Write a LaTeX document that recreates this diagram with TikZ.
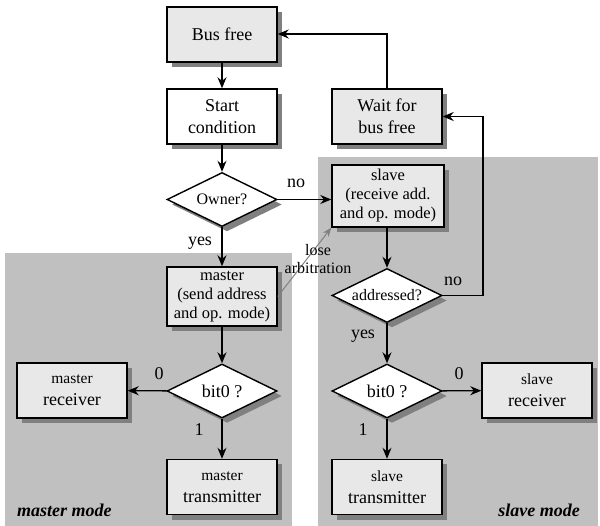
\documentclass[tikz,border=0pt]{standalone}
\usepackage{fontspec}
\setmainfont{Liberation Serif}
\usetikzlibrary{shapes.geometric,shadows,arrows.meta}
\definecolor{regiongray}{HTML}{C0C0C0}
\definecolor{boxfill}{HTML}{E8E8E8}
\definecolor{shadowgray}{HTML}{808080}
\begin{document}
\begin{tikzpicture}[x=1pt,y=-1pt,
  shadowed/.style={general shadow={fill=shadowgray, shadow xshift=5pt, shadow yshift=-5pt}},
  proc/.style={draw, line width=1.4pt, fill=boxfill, shadowed, minimum width=110pt,
    minimum height=55pt, align=center, inner sep=2pt, font=\fontsize{18}{22}\selectfont},
  plainproc/.style={proc, fill=white},
  smallproc/.style={proc, font=\fontsize{16.5}{19}\selectfont},
  decision/.style={diamond, shape aspect=2, draw, line width=1.4pt, fill=white, shadowed,
    minimum width=110pt, minimum height=54pt, inner sep=0pt, font=\fontsize{16}{19}\selectfont},
  flow/.style={line width=1.4pt, -{Stealth[length=11pt,width=9pt]}},
  lbl/.style={font=\fontsize{18}{20}\selectfont, inner sep=0pt},
  modelbl/.style={font=\bfseries\itshape\fontsize{18}{20}\selectfont, inner sep=0pt},
]
\useasboundingbox (0,0) rectangle (600,526);

% mode regions
\fill[regiongray] (5,253) rectangle (292,526);
\fill[regiongray] (318,157) rectangle (598,526);

% nodes
\node[proc] (busfree) at (222,34.5) {Bus free};
\node[plainproc] (start) at (222,116.5) {Start\\condition};
\node[proc] (wait) at (387,116.5) {Wait for\\bus free};
\node[decision] (owner) at (222,199.5) {Owner?};
\node[smallproc, minimum width=112pt, minimum height=62pt] (slave) at (388,196) {slave\\(receive add.\\and op. mode)};
\node[smallproc, minimum height=59pt] (master) at (222,296.5) {master\\(send address\\and op. mode)};
\node[decision] (addr) at (387,295.5) {addressed?};
\node[decision, font=\fontsize{18}{20}\selectfont] (mbit) at (222,391) {bit0 ?};
\node[decision, font=\fontsize{18}{20}\selectfont] (sbit) at (387,391) {bit0 ?};
\node[proc] (mrecv) at (72,390.5) {{\fontsize{15.5}{19}\selectfont master}\\receiver};
\node[proc] (mtrans) at (222,487) {{\fontsize{15.5}{19}\selectfont master}\\transmitter};
\node[proc] (srecv) at (537,390.5) {{\fontsize{15.5}{19}\selectfont slave}\\receiver};
\node[proc] (strans) at (387,487) {{\fontsize{15.5}{19}\selectfont slave}\\transmitter};

\node[modelbl, anchor=west] (mmode) at (17,510) {master mode};
\node[modelbl, anchor=east] (smode) at (580,510) {slave mode};

% routing points
\coordinate (upturn) at (387,34);
\coordinate (rbend) at (483,295.5);
\coordinate (rtop) at (483,116.5);

% connectors
\draw[flow] (busfree) -- (start);
\draw[flow] (start) -- (owner);
\draw[flow] (owner.east) -- (owner.east -| slave.west);
\draw[flow] (owner) -- (master);
\draw[flow] (master) -- (mbit);
\draw[flow] (mbit) -- (mrecv);
\draw[flow] (mbit) -- (mtrans);
\draw[flow] (slave.south -| addr.north) -- (addr.north);
\draw[flow] (addr) -- (sbit);
\draw[flow] (sbit) -- (srecv);
\draw[flow] (sbit) -- (strans);
\draw[flow] (addr.east) -- (rbend) -- (rtop) -- (wait.east);
\draw[flow] (wait.north) -- (upturn) -- (busfree.east |- upturn);
\draw[line width=1pt, gray, -{Stealth[length=9pt,width=7pt]}] (master.east) -- (slave.south west);

% labels
\node[lbl] (lno1) at (296,183) {no};
\node[lbl] (lyes1) at (200,243) {yes};
\node[lbl] (lno2) at (453,281) {no};
\node[lbl] (lyes2) at (363,336) {yes};
\node[lbl] (l0m) at (159,374) {0};
\node[lbl] (l1m) at (199,430) {1};
\node[lbl] (l0s) at (459,374) {0};
\node[lbl] (l1s) at (363,430) {1};
\node[align=center, font=\fontsize{16}{18}\selectfont, inner sep=0pt] (lose) at (318,259) {lose\\arbitration};
\end{tikzpicture}
\end{document}
